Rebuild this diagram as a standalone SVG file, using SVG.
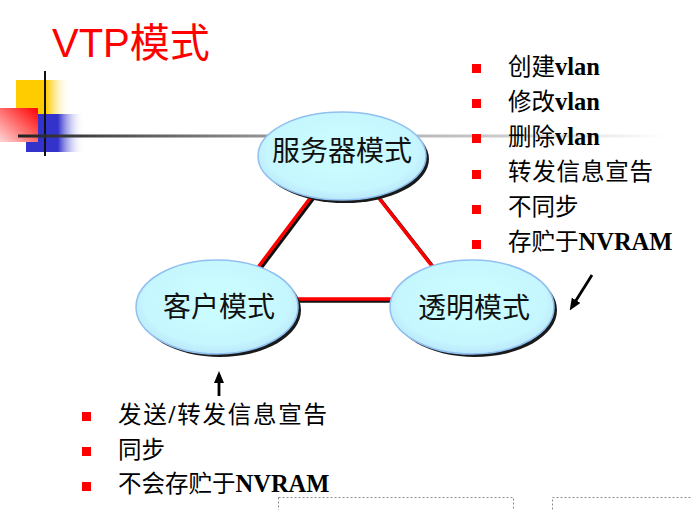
<svg xmlns="http://www.w3.org/2000/svg" width="691" height="510" viewBox="0 0 691 510">
  <defs>
    <style>
      .title { font-family: "Liberation Sans", "Noto Sans CJK SC", sans-serif; font-size: 40px; fill: #ff0000; }
      .node-label { font-family: "Liberation Serif", "Noto Sans CJK SC", serif; font-size: 28px; fill: #111; text-anchor: middle; }
      .node-shape { fill: url(#nodeFill); stroke: #8fc0f0; stroke-width: 1.5; }
      .node-shadow { fill: #1a1a1a; }
      .item { font-family: "Liberation Serif", "Noto Sans CJK SC", serif; font-size: 23.5px; fill: #000; }
      .latin { font-weight: bold; font-size: 24.5px; }
      .bullet { fill: #ff0000; }
      .link { stroke: #ff0000; stroke-width: 3.5; stroke-linecap: round; fill: none; }
      .link-shadow { stroke: #111; stroke-width: 3.5; fill: none; }
      .arrow { stroke: #000; stroke-width: 2.8; fill: none; marker-end: url(#head); }
      .dash { fill: none; stroke: #8a8a8a; stroke-width: 1; stroke-dasharray: 2 2; }
    </style>
    <radialGradient id="nodeFill" cx="0.5" cy="0.45" r="0.6">
      <stop offset="0" stop-color="#ccffff"/>
      <stop offset="0.75" stop-color="#c6f6fe"/>
      <stop offset="1" stop-color="#b4e0fa"/>
    </radialGradient>
    <linearGradient id="yellowG" x1="0" y1="0" x2="1" y2="0">
      <stop offset="0" stop-color="#ffcc00"/>
      <stop offset="0.55" stop-color="#ffcc00"/>
      <stop offset="1" stop-color="#ffffff" stop-opacity="0"/>
    </linearGradient>
    <linearGradient id="blueG" x1="0" y1="0" x2="1" y2="0">
      <stop offset="0" stop-color="#3333cc"/>
      <stop offset="0.55" stop-color="#3333cc"/>
      <stop offset="1" stop-color="#ffffff" stop-opacity="0"/>
    </linearGradient>
    <linearGradient id="redG" x1="1" y1="0" x2="0" y2="1">
      <stop offset="0" stop-color="#ff0000"/>
      <stop offset="1" stop-color="#ffd6d6"/>
    </linearGradient>
    <linearGradient id="lineG" x1="18" y1="0" x2="665" y2="0" gradientUnits="userSpaceOnUse">
      <stop offset="0" stop-color="#222222"/>
      <stop offset="0.4" stop-color="#999999"/>
      <stop offset="0.75" stop-color="#cccccc"/>
      <stop offset="1" stop-color="#ffffff"/>
    </linearGradient>
    <marker id="head" viewBox="0 0 12 10" refX="2" refY="5" markerWidth="12" markerHeight="10" markerUnits="userSpaceOnUse" orient="auto">
      <path d="M0,0 L12,5 L0,10 z" fill="#000"/>
    </marker>
  </defs>

  <rect width="691" height="510" fill="#ffffff"/>

  <!-- decoration -->
  <g id="decoration">
    <rect x="16" y="80" width="55" height="34" fill="url(#yellowG)"/>
    <rect x="26" y="114" width="58" height="38" fill="url(#blueG)"/>
    <rect x="0" y="108" width="38" height="34" fill="url(#redG)"/>
    <line x1="45" y1="71" x2="45" y2="156" stroke="#111" stroke-width="2"/>
    <line x1="18" y1="136" x2="665" y2="136" stroke="url(#lineG)" stroke-width="3"/>
  </g>

  <text class="title" x="52" y="57">VTP模式</text>

  <!-- connectors -->
  <g id="connectors">
    <line class="link-shadow" x1="313" y1="199" x2="261" y2="268"/>
    <line class="link" x1="311" y1="197" x2="259" y2="266"/>
    <line class="link-shadow" x1="380" y1="199" x2="434" y2="268"/>
    <line class="link" x1="378" y1="197" x2="432" y2="266"/>
    <line class="link-shadow" x1="297" y1="301" x2="391" y2="301"/>
    <line class="link" x1="297" y1="299" x2="391" y2="299"/>
  </g>

  <!-- nodes -->
  <g id="node-server">
    <ellipse class="node-shadow" cx="345" cy="159" rx="84" ry="44"/>
    <ellipse class="node-shape" cx="342" cy="156" rx="84" ry="44"/>
    <text class="node-label" x="342" y="161">服务器模式</text>
  </g>
  <g id="node-client">
    <ellipse class="node-shadow" cx="220" cy="310" rx="81" ry="47"/>
    <ellipse class="node-shape" cx="217" cy="307" rx="81" ry="47"/>
    <text class="node-label" x="219" y="317">客户模式</text>
  </g>
  <g id="node-transparent">
    <ellipse class="node-shadow" cx="475" cy="310" rx="82" ry="47"/>
    <ellipse class="node-shape" cx="472" cy="307" rx="82" ry="47"/>
    <text class="node-label" x="474" y="318">透明模式</text>
  </g>

  <!-- arrows -->
  <g id="arrows">
    <line class="arrow" x1="219" y1="396" x2="219" y2="381"/>
    <line class="arrow" x1="592" y1="275" x2="575" y2="302"/>
  </g>

  <!-- server / transparent properties list -->
  <g id="list-right">
    <rect class="bullet" x="472" y="64" width="9" height="9"/>
    <rect class="bullet" x="472" y="99" width="9" height="9"/>
    <rect class="bullet" x="472" y="134" width="9" height="9"/>
    <rect class="bullet" x="472" y="170" width="9" height="9"/>
    <rect class="bullet" x="472" y="205" width="9" height="9"/>
    <rect class="bullet" x="472" y="240" width="9" height="9"/>
    <text class="item" x="508" y="75">创建<tspan class="latin">vlan</tspan></text>
    <text class="item" x="508" y="110">修改<tspan class="latin">vlan</tspan></text>
    <text class="item" x="508" y="145">删除<tspan class="latin">vlan</tspan></text>
    <text class="item" x="508" y="180" textLength="145" lengthAdjust="spacing">转发信息宣告</text>
    <text class="item" x="508" y="215">不同步</text>
    <text class="item" x="508" y="250">存贮于<tspan class="latin">NVRAM</tspan></text>
  </g>

  <!-- client properties list -->
  <g id="list-bottom">
    <rect class="bullet" x="82" y="412" width="9" height="9"/>
    <rect class="bullet" x="82" y="447" width="9" height="9"/>
    <rect class="bullet" x="82" y="482" width="9" height="9"/>
    <text class="item" x="118" y="423" textLength="209" lengthAdjust="spacing">发送<tspan class="latin">/</tspan>转发信息宣告</text>
    <text class="item" x="118" y="458">同步</text>
    <text class="item" x="118" y="492">不会存贮于<tspan class="latin">NVRAM</tspan></text>
  </g>

  <!-- dashed placeholders -->
  <g id="placeholders">
    <rect class="dash" x="278.5" y="497.5" width="235" height="30"/>
    <rect class="dash" x="552.5" y="497.5" width="160" height="30"/>
  </g>
</svg>
